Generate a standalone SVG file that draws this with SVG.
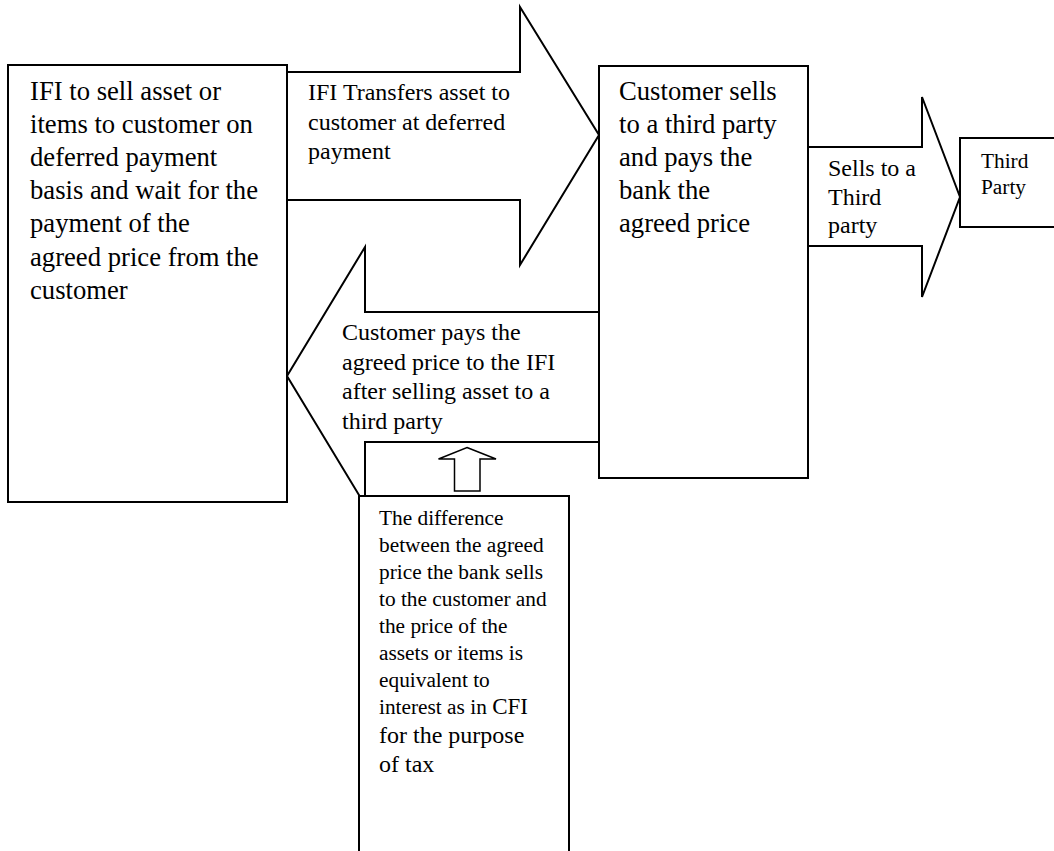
<svg xmlns="http://www.w3.org/2000/svg" width="1054" height="851" viewBox="0 0 1054 851">
  <style>
    .shape { fill: #ffffff; stroke: #000000; stroke-width: 2; stroke-linejoin: miter; }
    .thin { fill: #ffffff; stroke: #000000; stroke-width: 1.5; }
    text { font-family: "Liberation Serif", "Times New Roman", serif; fill: #000000; }
    .big { font-size: 26.67px; }
    .mid { font-size: 24px; }
    .small { font-size: 21.33px; }
  </style>
  <rect width="1054" height="851" fill="#ffffff"/>

  <!-- block arrows linking the parties -->
  <g id="connectors">
    <!-- return payment: customer back to IFI -->
    <path class="shape" d="M287,376 L365,247 L365,312 L599,312 L599,442 L365,442 L365,505 Z"/>
    <!-- transfer: IFI to customer -->
    <path class="shape" d="M287,72 L520,72 L520,7 L599,135 L520,265 L520,200 L287,200 Z"/>
    <!-- sale: customer to third party -->
    <path class="shape" d="M808,147 L922,147 L922,97 L960,197 L922,297 L922,246 L808,246 Z"/>
    <text class="mid">
      <tspan x="308" y="100">IFI Transfers asset to</tspan>
      <tspan x="308" y="129.5">customer at deferred</tspan>
      <tspan x="308" y="159">payment</tspan>
    </text>
    <text class="mid">
      <tspan x="342" y="340">Customer pays the</tspan>
      <tspan x="342" y="369.5">agreed price to the IFI</tspan>
      <tspan x="342" y="399">after selling asset to a</tspan>
      <tspan x="342" y="428.5">third party</tspan>
    </text>
    <text class="mid">
      <tspan x="828" y="176">Sells to a</tspan>
      <tspan x="828" y="204.5">Third</tspan>
      <tspan x="828" y="233">party</tspan>
    </text>
  </g>

  <g id="ifi">
    <rect class="shape" x="8" y="65" width="279" height="437"/>
    <text class="big">
      <tspan x="30" y="100">IFI to sell asset or</tspan>
      <tspan x="30" y="133">items to customer on</tspan>
      <tspan x="30" y="166">deferred payment</tspan>
      <tspan x="30" y="199">basis and wait for the</tspan>
      <tspan x="30" y="232">payment of the</tspan>
      <tspan x="30" y="266">agreed price from the</tspan>
      <tspan x="30" y="299">customer</tspan>
    </text>
  </g>

  <g id="customer">
    <rect class="shape" x="599" y="66" width="209" height="412"/>
    <text class="big">
      <tspan x="619" y="100">Customer sells</tspan>
      <tspan x="619" y="133">to a third party</tspan>
      <tspan x="619" y="166">and pays the</tspan>
      <tspan x="619" y="199">bank the</tspan>
      <tspan x="619" y="232">agreed price</tspan>
    </text>
  </g>

  <g id="third-party">
    <rect class="shape" x="960" y="138" width="110" height="89"/>
    <text class="small">
      <tspan x="981" y="168">Third</tspan>
      <tspan x="981" y="194">Party</tspan>
    </text>
  </g>

  <g id="tax-note">
    <rect class="shape" x="359" y="496" width="210" height="370"/>
    <text class="small">
      <tspan x="379" y="525">The difference</tspan>
      <tspan x="379" y="552">between the agreed</tspan>
      <tspan x="379" y="579">price the bank sells</tspan>
      <tspan x="379" y="606">to the customer and</tspan>
      <tspan x="379" y="633">the price of the</tspan>
      <tspan x="379" y="660">assets or items is</tspan>
      <tspan x="379" y="687">equivalent to</tspan>
      <tspan x="379" y="714">interest as in <tspan font-size="23px">CFI</tspan></tspan>
    </text>
    <text class="mid">
      <tspan x="379" y="743">for the purpose</tspan>
      <tspan x="379" y="772">of tax</tspan>
    </text>
  </g>

  <g id="note-pointer">
    <path class="thin" d="M467,447.5 L496,459 L480,459 L480,491 L454.5,491 L454.5,459 L438.5,459 Z"/>
  </g>
</svg>
